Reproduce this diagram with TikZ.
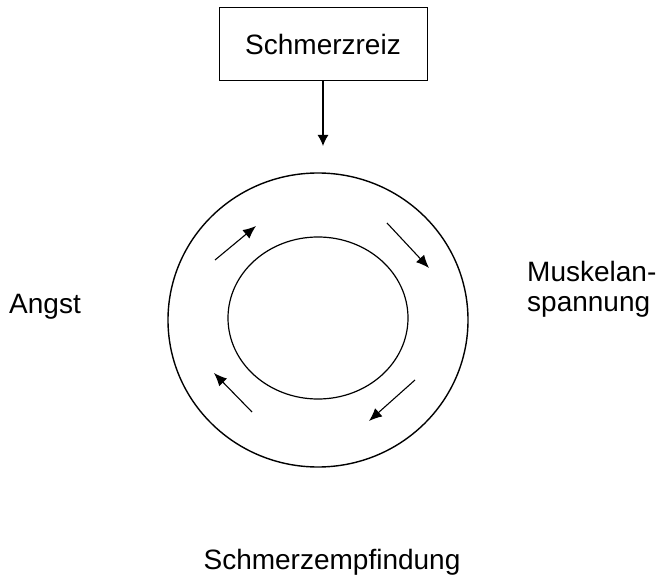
\documentclass[tikz,border=0pt]{standalone}
\usepackage{fontspec}
\setmainfont{Liberation Sans}
\usetikzlibrary{math,arrows.meta}

\begin{document}
\begin{tikzpicture}[x=1pt,y=-1pt,font=\fontsize{28}{30}\selectfont]
  \tikzmath{\cx = 318; \cy = 320;}
  \useasboundingbox (0,0) rectangle (659,577);
  % the two rings
  \draw[line width=1.4pt] (\cx,\cy) ellipse (150pt and 147pt);
  \draw[line width=1.2pt] (\cx,\cy-2) ellipse (90pt and 81pt);
  % stimulus box and arrow
  \node[draw, line width=1pt, minimum width=208pt, minimum height=73pt] (reiz) at (323,44) {Schmerzreiz};
  \coordinate (ring) at (323,146);
  \draw[line width=1.2pt, -{Latex[length=11pt,width=11pt]}] (reiz) -- (ring);
  % circular arrows
  \draw[line width=1.1pt, -{Latex[length=13pt,width=11pt]}] (215,260) -- (256,226);
  \draw[line width=1.1pt, -{Latex[length=13pt,width=11pt]}] (387,223) -- (429,268);
  \draw[line width=1.1pt, -{Latex[length=13pt,width=11pt]}] (415,380) -- (369,421);
  \draw[line width=1.1pt, -{Latex[length=13pt,width=11pt]}] (252,412) -- (214,373);
  % labels
  \node[anchor=base west, inner sep=0pt] (angst) at (9,314) {Angst};
  \node[anchor=base west, inner sep=0pt, align=left] (muskel) at (527,312) {Muskelan-\\spannung};
  \node[anchor=base, inner sep=0pt] (empf) at (332,569) {Schmerzempfindung};
\end{tikzpicture}
\end{document}
